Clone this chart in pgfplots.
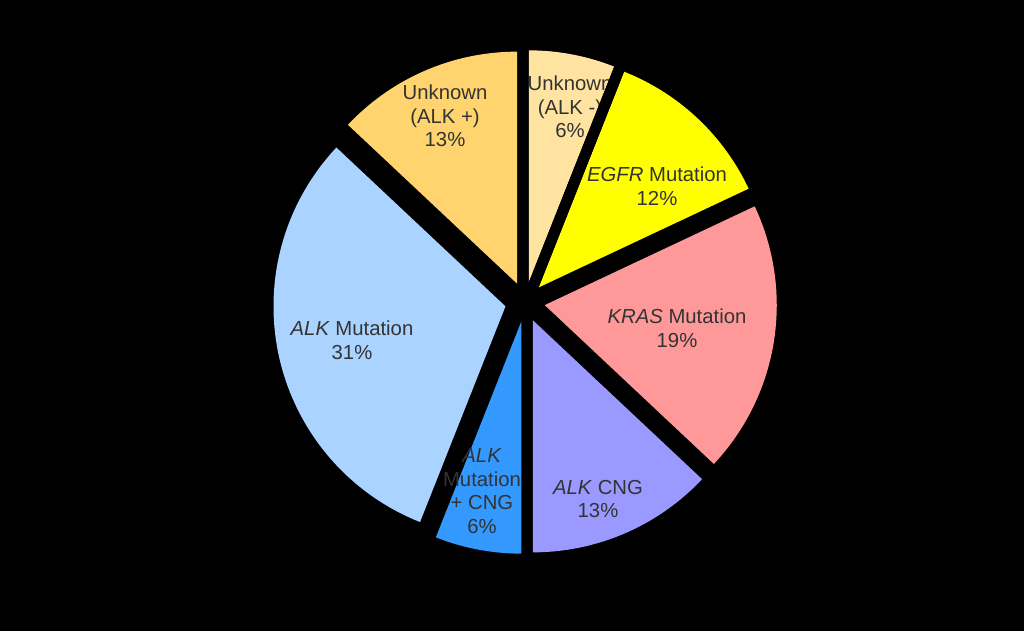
\documentclass[border=0pt]{standalone}
\usepackage{pgfplots}
\pgfplotsset{compat=1.18}
\usepackage{fontspec}
\setmainfont{Liberation Sans}
\definecolor{cUnkPos}{HTML}{FFD46E}
\definecolor{cUnkNeg}{HTML}{FFE3A0}
\definecolor{cEGFR}{HTML}{FFFF00}
\definecolor{cKRAS}{HTML}{FF9999}
\definecolor{cCNG}{HTML}{9999FF}
\definecolor{cMutCNG}{HTML}{3399FF}
\definecolor{cMut}{HTML}{AAD3FF}
\definecolor{txt}{HTML}{333333}
\tikzset{lbl/.style={font=\fontsize{20.3}{23.5}\selectfont, text=txt, align=center, inner sep=0pt}}
\def\cx{525}
\def\cy{329}
\def\R{232}
\def\E{20}
% #1 cumulative percent before the slice, #2 percent of the slice, #3 colour
\newcommand{\slice}[3]{%
  \pgfmathsetmacro\aA{90-3.6*#1}%
  \pgfmathsetmacro\aB{90-3.6*(#1+#2)}%
  \pgfmathsetmacro\aM{(\aA+\aB)/2}%
  \pgfmathsetmacro\vx{\cx+\E*cos(\aM)}%
  \pgfmathsetmacro\vy{\cy+\E*sin(\aM)}%
  \edef\temp{\noexpand\addplot[fill=#3, draw=none, domain=\aB:\aA, samples=90]
    ({\vx+\R*cos(x)},{\vy+\R*sin(x)}) -- (axis cs:\vx,\vy) -- cycle;}%
  \temp
}
\begin{document}
\begin{tikzpicture}
\begin{axis}[
  width=1024pt, height=631pt, scale only axis,
  xmin=0, xmax=1024, ymin=0, ymax=631,
  hide axis, clip=false,
]
\fill[black] (axis cs:0,0) rectangle (axis cs:1024,631);
% percentages: 6, 12, 19, 13, 6, 31, 13 (clockwise from top)
\slice{0}{6}{cUnkNeg}
\slice{6}{12}{cEGFR}
\slice{18}{19}{cKRAS}
\slice{37}{13}{cCNG}
\slice{50}{6}{cMutCNG}
\slice{56}{31}{cMut}
\slice{87}{13}{cUnkPos}
\node[lbl] at (axis cs:570,524) {Unknown\\(ALK -)\\6\%};
\addplot[black, line width=11pt] coordinates {(533.7,346.1) (623.9,573.9)};
\node[lbl] at (axis cs:445,515) {Unknown\\(ALK +)\\13\%};
\node[lbl] at (axis cs:657,445) {\textit{EGFR} Mutation\\12\%};
\node[lbl] at (axis cs:677,303) {\textit{KRAS} Mutation\\19\%};
\node[lbl] at (axis cs:598,132) {\textit{ALK} CNG\\13\%};
\node[lbl] at (axis cs:482,140) {\textit{ALK}\\Mutation\\+ CNG\\6\%};
\node[lbl] at (axis cs:352,291) {\textit{ALK} Mutation\\31\%};
\end{axis}
\end{tikzpicture}
\end{document}
